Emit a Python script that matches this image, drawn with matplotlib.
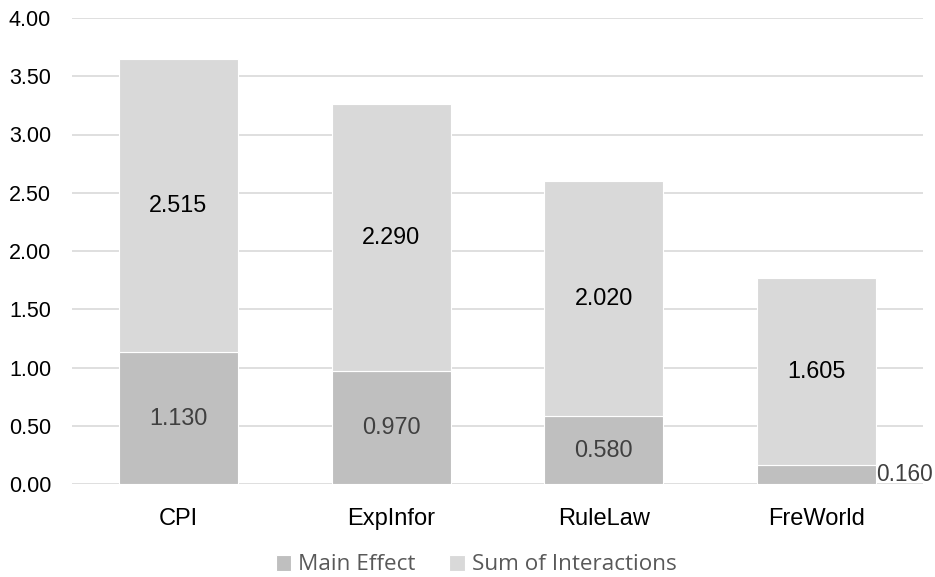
import matplotlib
matplotlib.use("Agg")
import matplotlib.pyplot as plt
import numpy as np

categories = ["CPI", "ExpInfor", "RuleLaw", "FreWorld"]
main_effect = [1.130, 0.970, 0.580, 0.160]
interactions = [2.515, 2.290, 2.020, 1.605]
y_ticks = [0.0, 0.5, 1.0, 1.5, 2.0, 2.5, 3.0, 3.5, 4.0]

c_main = "#BFBFBF"
c_inter = "#D9D9D9"

fig = plt.figure(figsize=(9.35, 5.77), dpi=100)
W, H = 935, 577
ax = fig.add_axes([72 / W, 1 - 484 / H, (923 - 72) / W, (484 - 18) / H])

x = np.arange(len(categories))
w = 0.56
b1 = ax.bar(x, main_effect, w, color=c_main, edgecolor="white", linewidth=0.8,
            label="Main Effect", zorder=2)
b2 = ax.bar(x, interactions, w, bottom=main_effect, color=c_inter,
            edgecolor="white", linewidth=0.8, label="Sum of Interactions", zorder=2)

lab_font = "Liberation Sans"
lab_size = 16.8
for i, (m, s) in enumerate(zip(main_effect, interactions)):
    if m > 0.3:
        ax.text(x[i], m / 2, f"{m:.3f}", ha="center", va="center",
                fontsize=lab_size, color="#404040", family=lab_font)
    else:
        ax.text(x[i] + w / 2, m / 2, f"{m:.3f}", ha="left", va="center",
                fontsize=16.3, color="#404040", family=lab_font)
    ax.text(x[i], m + s / 2, f"{s:.3f}", ha="center", va="center",
            fontsize=lab_size, color="black", family=lab_font)

ax.set_xlim(-0.5, len(categories) - 0.5)
ax.set_ylim(0, 4.0)
ax.set_yticks(y_ticks)
ax.set_yticklabels([f"{t:.2f}" for t in y_ticks], family=lab_font, fontsize=15.5)
ax.set_xticks(x)
ax.set_xticklabels(categories, family=lab_font, fontsize=17)
ax.tick_params(axis="y", length=0, pad=15)
ax.tick_params(axis="x", length=0, pad=17)
ax.yaxis.grid(True, color="#D9D9D9", linewidth=1.2, zorder=0)
ax.set_axisbelow(True)
for sp in ax.spines.values():
    sp.set_visible(False)

leg = fig.legend(handles=[b1, b2], loc="center", bbox_to_anchor=(476 / W, 1 - 565 / H),
                 ncol=2, frameon=False, handlelength=0.7,
                 handleheight=0.7, columnspacing=1.5, handletextpad=0.3,
                 prop={"family": "Open Sans", "size": 16.2})
for t in leg.get_texts():
    t.set_color("#595959")

fig.savefig("out.png", dpi=100)
